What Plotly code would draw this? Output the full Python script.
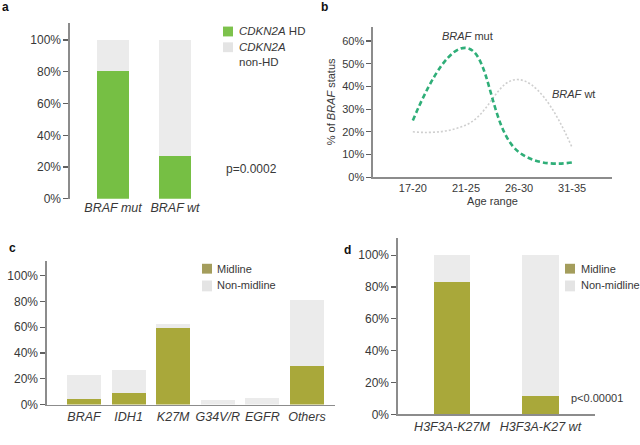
import plotly.graph_objects as go

# ---- data ----
a_cats = ["BRAF mut", "BRAF wt"]
a_hd = [80.5, 27]
a_nonhd = [19.5, 73]

b_cats = ["17-20", "21-25", "26-30", "31-35"]
b_mut = [25, 57, 11, 6.5]
b_wt = [20, 23, 43, 13]

c_cats = ["BRAF", "IDH1", "K27M", "G34V/R", "EGFR", "Others"]
c_mid = [4.6, 8.9, 59.3, 0, 0, 30]
c_nonmid = [18.3, 18.1, 3.3, 3.5, 5.2, 51.4]

d_cats = ["H3F3A-K27M", "H3F3A-K27 wt"]
d_mid = [83, 11.8]
d_nonmid = [17, 88.2]

W, H = 640, 445
FONT = "Liberation Sans, Arial, sans-serif"
GREEN = "#76bf44"
OLIVE = "#a9a83a"
OLIVE_LEG = "#a49d5c"
GREY = "#ebebeb"
GREY_LEG = "#e4e4e4"
AXC = "#8c8c8c"
TXT = "#383838"


def px(x):
    return x / W


def py(y):
    return 1 - y / H


fig = go.Figure()

# panel a
fig.add_bar(x=list(range(2)), y=a_hd, marker_color=GREEN, width=0.516,
            xaxis="x", yaxis="y", showlegend=False, marker_line_width=0)
fig.add_bar(x=list(range(2)), y=a_nonhd, marker_color=GREY, width=0.516,
            xaxis="x", yaxis="y", showlegend=False, marker_line_width=0)

# panel b
fig.add_scatter(x=list(range(4)), y=b_wt, mode="lines", xaxis="x2", yaxis="y2",
                line=dict(color="#cfcfcf", width=1.6, dash="2px,2px", shape="spline", smoothing=1.3),
                showlegend=False)
fig.add_scatter(x=list(range(4)), y=b_mut, mode="lines", xaxis="x2", yaxis="y2",
                line=dict(color="#2fae78", width=2.6, dash="5px,3px", shape="spline", smoothing=1.3),
                showlegend=False)

# panel c
fig.add_bar(x=list(range(6)), y=c_mid, marker_color=OLIVE, width=0.76,
            xaxis="x3", yaxis="y3", showlegend=False, marker_line_width=0)
fig.add_bar(x=list(range(6)), y=c_nonmid, marker_color=GREY, width=0.76,
            xaxis="x3", yaxis="y3", showlegend=False, marker_line_width=0)

# panel d
fig.add_bar(x=list(range(2)), y=d_mid, marker_color=OLIVE, width=0.41,
            xaxis="x4", yaxis="y4", showlegend=False, marker_line_width=0)
fig.add_bar(x=list(range(2)), y=d_nonmid, marker_color=GREY, width=0.41,
            xaxis="x4", yaxis="y4", showlegend=False, marker_line_width=0)


def yax(dom, rng, dtick, anchor, size=12):
    return dict(domain=dom, range=rng, dtick=dtick, tick0=0, ticksuffix="%",
                showline=True, linecolor=AXC, linewidth=1.6, ticks="outside",
                ticklen=5, tickcolor="#606060", tickwidth=1.2, showgrid=False,
                zeroline=False, tickfont=dict(family=FONT, size=size, color=TXT),
                anchor=anchor, fixedrange=True)


def xax(dom, rng, cats, anchor, showline=True, italic=True, size=12.5):
    txt = [("<i>%s</i>" % c) if italic else c for c in cats]
    return dict(domain=dom, range=rng, tickvals=list(range(len(cats))), ticktext=txt,
                showline=showline, linecolor=AXC, linewidth=1.6, ticks="",
                showgrid=False, zeroline=False,
                tickfont=dict(family=FONT, size=size, color=TXT), anchor=anchor,
                fixedrange=True)


layout = dict(
    width=W, height=H, margin=dict(l=0, r=0, t=0, b=0), autosize=False,
    paper_bgcolor="white", plot_bgcolor="rgba(0,0,0,0)", barmode="stack",
    font=dict(family=FONT, color=TXT),
    xaxis=xax([px(70), px(210)], [-0.694, 1.565], a_cats, "y", showline=False),
    yaxis=yax([py(202), py(23)], [0, 111], 20, "x"),
    xaxis2=dict(xax([px(373), px(612)], [-0.75, 3.75], b_cats, "y2", italic=False, size=11),
                title=dict(text="Age range", font=dict(family=FONT, size=11, color=TXT), standoff=4)),
    yaxis2=dict(yax([py(180), py(27)], [0, 66.4], 10, "x2", size=11),
                title=dict(text="% of <i>BRAF</i> status", font=dict(family=FONT, size=11, color=TXT), standoff=4)),
    xaxis3=xax([px(47), px(335)], [-0.83, 5.63], c_cats, "y3"),
    yaxis3=yax([py(411), py(265)], [0, 111.5], 20, "x3"),
    xaxis4=xax([px(398), px(595)], [-0.61, 1.616], d_cats, "y4"),
    yaxis4=yax([py(421), py(242)], [0, 110.7], 20, "x4"),
)
fig.update_layout(**layout)

ann = []


def text(x, y, s, size=11, xanchor="left", color=TXT, bold=False):
    if bold:
        s = "<b>%s</b>" % s
    ann.append(dict(x=px(x), y=py(y), xref="paper", yref="paper", text=s, showarrow=False,
                    xanchor=xanchor, yanchor="middle", align="left", borderpad=0,
                    font=dict(family=FONT, size=size, color=color)))


# panel letters
text(1, 7, "a", 12, color="#111", bold=True)
text(320, 7, "b", 12, color="#111", bold=True)
text(8, 252, "c", 12, color="#111", bold=True)
text(343, 254, "d", 12, color="#111", bold=True)

# annotations a
text(225, 172, "p=0.0002", 12)
text(238, 32, "<i>CDKN2A</i> HD", 11.5)
text(238, 48, "<i>CDKN2A</i>", 11.5)
text(238, 63, "non-HD", 11.5)
# b
text(467, 37, "<i>BRAF</i> mut", 11, xanchor="center")
text(551, 95, "<i>BRAF</i> wt", 11)
# c
text(216, 273, "Midline")
text(216, 290, "Non-midline")
# d
text(580, 273, "Midline")
text(580, 290, "Non-midline")
text(570, 404, "p<0.00001")

shapes = []


def sq(x0, y0, x1, y1, color):
    shapes.append(dict(type="rect", xref="paper", yref="paper", x0=px(x0), x1=px(x1),
                       y0=py(y1), y1=py(y0), fillcolor=color, line=dict(width=0)))


sq(223, 27, 233, 37, "#7dc24c")
sq(223, 43, 233, 53, GREY_LEG)
sq(202, 268, 212, 278, OLIVE_LEG)
sq(202, 285, 212, 296, GREY_LEG)
sq(565, 268, 575, 278, OLIVE_LEG)
sq(565, 285, 575, 296, GREY_LEG)

fig.update_layout(annotations=ann, shapes=shapes)
fig.write_html("out.html", config={"displayModeBar": False, "staticPlot": True},
               post_script="document.body.style.margin='0';document.body.style.overflow='hidden';")
